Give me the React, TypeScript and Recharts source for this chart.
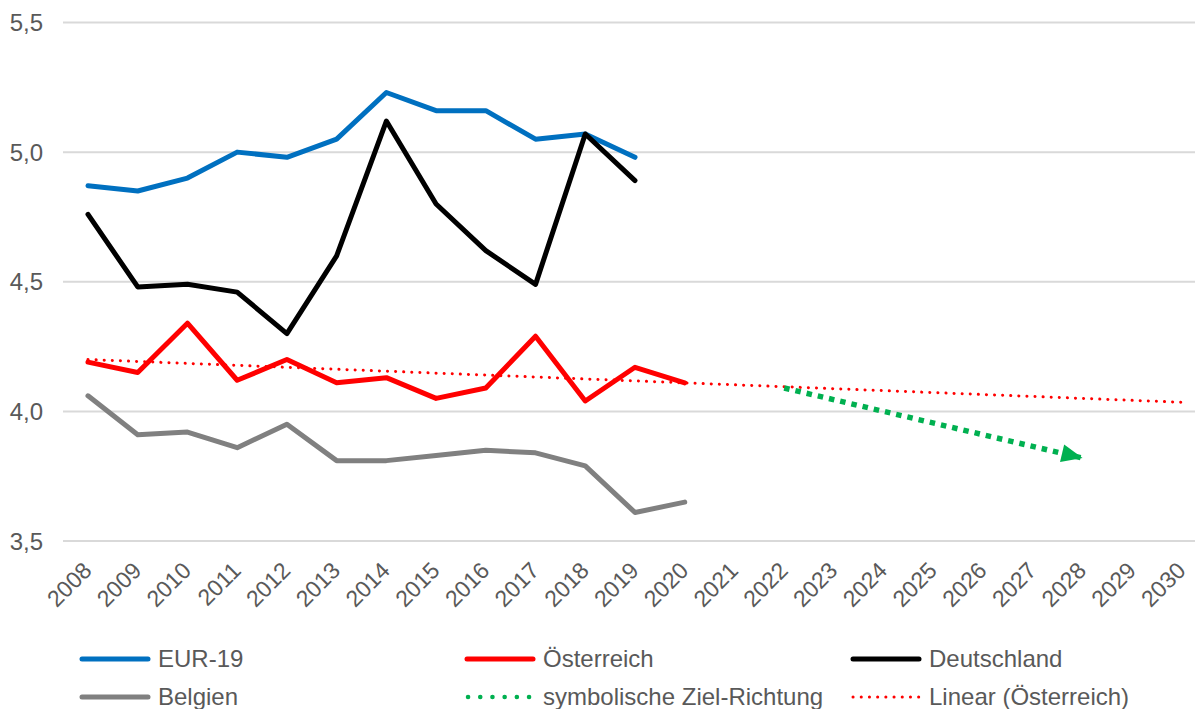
import { LineChart, Line, XAxis, YAxis, CartesianGrid } from 'recharts';

const years = [
  2008, 2009, 2010, 2011, 2012, 2013, 2014, 2015, 2016, 2017, 2018, 2019, 2020,
  2021, 2022, 2023, 2024, 2025, 2026, 2027, 2028, 2029, 2030,
];

const eur19 = [4.87, 4.85, 4.9, 5.0, 4.98, 5.05, 5.23, 5.16, 5.16, 5.05, 5.07, 4.98];
const oesterreich = [4.19, 4.15, 4.34, 4.12, 4.2, 4.11, 4.13, 4.05, 4.09, 4.29, 4.04, 4.17, 4.11];
const deutschland = [4.76, 4.48, 4.49, 4.46, 4.3, 4.6, 5.12, 4.8, 4.62, 4.49, 5.07, 4.89];
const belgien = [4.06, 3.91, 3.92, 3.86, 3.95, 3.81, 3.81, 3.83, 3.85, 3.84, 3.79, 3.61, 3.65];

// symbolic target direction: start and end point only
const zielRichtung: Record<number, number> = { 2022: 4.09, 2028: 3.82 };
// Excel linear trendline for Österreich, drawn through its two end points
const linearOe: Record<number, number> = { 2008: 4.2, 2030: 4.035 };

const yTicks = [3.5, 4.0, 4.5, 5.0, 5.5];

const data = years.map((year, i) => ({
  year,
  eur19: eur19[i] ?? null,
  oesterreich: oesterreich[i] ?? null,
  deutschland: deutschland[i] ?? null,
  belgien: belgien[i] ?? null,
  ziel: zielRichtung[year] ?? null,
  linear: linearOe[year] ?? null,
}));

const FONT = '"Liberation Sans", Arial, sans-serif';
const TEXT = '#595959';

const XTick = ({ x, y, payload }: any) => (
  <g transform={`translate(${x + 5},${y + 31})`}>
    <text textAnchor="end" transform="rotate(-45)" fill={TEXT} fontSize={23} fontFamily={FONT}>
      {payload.value}
    </text>
  </g>
);

// arrow head at the last point of the green series
const ArrowDot = (props: any) => {
  const { cx, cy, index, points } = props;
  if (index !== years.indexOf(2028) || cx == null || cy == null) return <g key={`d${index}`} />;
  let angle = 14;
  const pts = (points || []).filter((p: any) => p && p.y != null && p.value != null);
  if (pts.length >= 2) {
    const a = pts[0];
    angle = (Math.atan2(cy - a.y, cx - a.x) * 180) / Math.PI;
  }
  return (
    <polygon
      key={`d${index}`}
      points="0,0 -21,-9 -21,9"
      fill="#00B050"
      transform={`translate(${cx},${cy}) rotate(${angle})`}
    />
  );
};

const legendItems = [
  { label: 'EUR-19', color: '#0070C0', kind: 'solid', x: 82, row: 0 },
  { label: 'Österreich', color: '#FF0000', kind: 'solid', x: 467, row: 0 },
  { label: 'Deutschland', color: '#000000', kind: 'solid', x: 853, row: 0 },
  { label: 'Belgien', color: '#808080', kind: 'solid', x: 82, row: 1 },
  { label: 'symbolische Ziel-Richtung', color: '#00B050', kind: 'green', x: 467, row: 1 },
  { label: 'Linear (Österreich)', color: '#FF0000', kind: 'red', x: 853, row: 1 },
];

const LegendIcon = ({ kind, color }: { kind: string; color: string }) => {
  if (kind === 'solid') {
    return <line x1={3} y1={6} x2={69} y2={6} stroke={color} strokeWidth={5} strokeLinecap="round" />;
  }
  if (kind === 'green') {
    return (
      <line x1={4} y1={6} x2={66} y2={6} stroke={color} strokeWidth={4.5} strokeLinecap="round" strokeDasharray="0.1 12.1" />
    );
  }
  return <line x1={3} y1={6} x2={69} y2={6} stroke={color} strokeWidth={3} strokeLinecap="round" strokeDasharray="0.1 8.1" />;
};

export default function App() {
  return (
    <div style={{ position: 'absolute', left: 0, top: 0, width: 1195, height: 709, background: '#fff', fontFamily: FONT }}>
      <LineChart width={1195} height={709} data={data} margin={{ top: 22.5, right: 0, left: 0, bottom: 68 }}>
        <CartesianGrid vertical={false} stroke="#D9D9D9" strokeWidth={2} />
        <XAxis
          dataKey="year"
          type="number"
          domain={[2008, 2030]}
          ticks={years}
          interval={0}
          padding={{ left: 25, right: 13 }}
          axisLine={false}
          tickLine={false}
          tickSize={0}
          tickMargin={0}
          height={100}
          tick={<XTick />}
        />
        <YAxis
          domain={[3.5, 5.5]}
          ticks={yTicks}
          width={63}
          axisLine={false}
          tickLine={false}
          tickSize={0}
          tickMargin={20}
          tickFormatter={(v: number) => v.toFixed(1).replace('.', ',')}
          tick={{ fill: TEXT, fontSize: 24, fontFamily: FONT }}
        />
        <Line dataKey="eur19" stroke="#0070C0" strokeWidth={5} dot={false} strokeLinejoin="round" strokeLinecap="round" isAnimationActive={false} />
        <Line dataKey="deutschland" stroke="#000000" strokeWidth={5} dot={false} strokeLinejoin="round" strokeLinecap="round" isAnimationActive={false} />
        <Line dataKey="belgien" stroke="#808080" strokeWidth={5} dot={false} strokeLinejoin="round" strokeLinecap="round" isAnimationActive={false} />
        <Line dataKey="oesterreich" stroke="#FF0000" strokeWidth={5} dot={false} strokeLinejoin="round" strokeLinecap="round" isAnimationActive={false} />
        <Line
          dataKey="linear"
          stroke="#FF0000"
          strokeWidth={3}
          strokeDasharray="0.1 8"
          strokeLinecap="round"
          dot={false}
          connectNulls
          isAnimationActive={false}
        />
        <Line
          dataKey="ziel"
          stroke="#00B050"
          strokeWidth={5.5}
          strokeDasharray="5.5 6"
          dot={<ArrowDot />}
          activeDot={false}
          connectNulls
          isAnimationActive={false}
        />
      </LineChart>
      {legendItems.map((it) => (
        <div
          key={it.label}
          style={{
            position: 'absolute',
            left: it.x - 3,
            top: (it.row === 0 ? 659 : 697) - 14,
            height: 28,
            display: 'flex',
            alignItems: 'center',
            whiteSpace: 'nowrap',
          }}
        >
          <svg width={72} height={12} style={{ display: 'block' }}>
            <LegendIcon kind={it.kind} color={it.color} />
          </svg>
          <span style={{ marginLeft: 7, fontSize: 24, color: TEXT, lineHeight: '28px' }}>{it.label}</span>
        </div>
      ))}
    </div>
  );
}
